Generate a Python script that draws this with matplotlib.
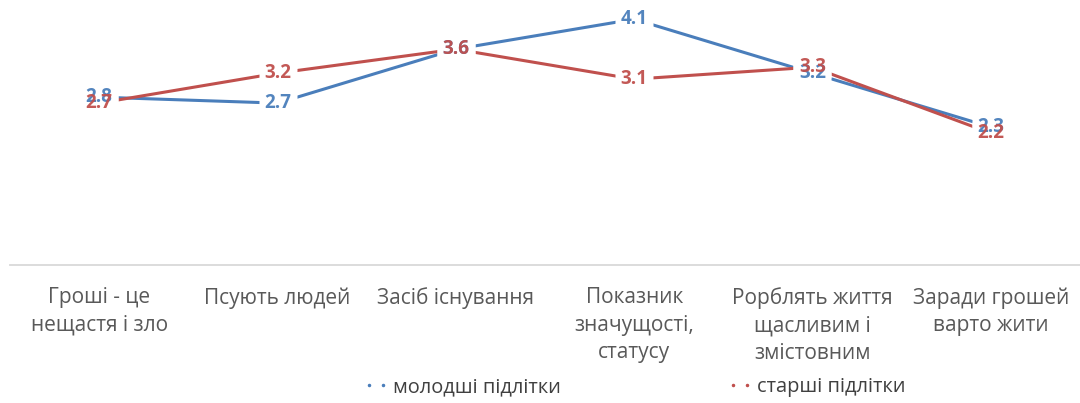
import matplotlib.pyplot as plt
from matplotlib.lines import Line2D

categories = ['Гроші - це\nнещастя і зло', 'Псують людей', 'Засіб існування',
              'Показник\nзначущості,\nстатусу', 'Рорблять життя\nщасливим і\nзмістовним',
              'Заради грошей\nварто жити']
younger = [2.8, 2.7, 3.6, 4.1, 3.2, 2.3]
older = [2.7, 3.2, 3.6, 3.1, 3.3, 2.2]
series_names = ['молодші підлітки', 'старші підлітки']

blue = '#4A7EBB'
red = '#C0504D'

plt.rcParams['font.family'] = ['Open Sans', 'DejaVu Sans']

fig = plt.figure(figsize=(10.8, 4.03), dpi=100)
ax = fig.add_axes([10 / 1080, 138 / 403, 1070 / 1080, 265 / 403])

x = list(range(len(categories)))
for vals, col in [(younger, blue), (older, red)]:
    ax.plot(x, vals, color=col, lw=2.2, solid_capstyle='butt')

# white rectangles under the labels cut gaps in the lines (Excel style)
box = [(-1.7, -1), (1.7, -1), (1.7, 1), (-1.7, 1), (-1.7, -1)]
for vals in (younger, older):
    ax.plot(x, vals, linestyle='none', marker=box, ms=27, mfc='white', mec='none', zorder=4)

for vals, col, z in [(younger, blue, 5), (older, red, 6)]:
    for xi, v in zip(x, vals):
        ax.text(xi, v, f'{v:.1f}', color=col, fontsize=13.5, fontweight='bold',
                ha='center', va='center', zorder=z, alpha=0.95)

ax.set_xlim(-0.5, len(categories) - 0.5)
ax.set_ylim(0, 4.42)
ax.set_yticks([])
ax.set_xticks(x)
ax.set_xticklabels(categories, fontsize=15, color='#595959', linespacing=1.4)
ax.tick_params(axis='x', length=0, pad=16)
for s in ['top', 'right', 'left']:
    ax.spines[s].set_visible(False)
ax.spines['bottom'].set_color('#d9d9d9')
ax.spines['bottom'].set_linewidth(1.3)

handles = [Line2D([0], [0], color=c, marker='.', markersize=3, linestyle='none')
           for c in (blue, red)]
fig.legend(handles, series_names, loc='center', bbox_to_anchor=(0.587, 16 / 403),
           ncol=2, frameon=False, numpoints=2, fontsize=14.4, labelcolor='#404040',
           columnspacing=8.3, handlelength=1.3, handletextpad=0.2)

fig.savefig('out.png', dpi=100)
